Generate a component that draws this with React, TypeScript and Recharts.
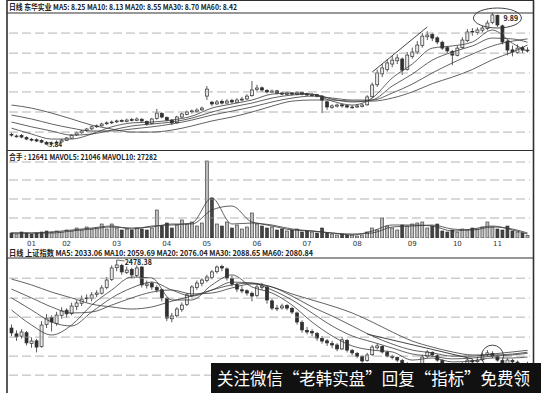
import { ComposedChart, Bar, Line, XAxis, YAxis, ReferenceLine, ReferenceDot } from 'recharts';

type Ohlc = [number, number, number, number]; // open, high, low, close

// 东华实业 daily candles
const dhCandles: Ohlc[] = [
  [4.33, 4.40, 4.22, 4.29], [4.22, 4.32, 4.18, 4.25], [4.28, 4.34, 4.15, 4.20], [4.18, 4.24, 4.06, 4.11],
  [4.10, 4.16, 4.00, 4.06], [4.08, 4.14, 3.97, 4.02], [4.04, 4.10, 3.92, 3.97], [3.96, 4.02, 3.86, 3.88],
  [3.89, 4.00, 3.84, 3.93], [3.94, 4.05, 3.90, 3.97], [3.98, 4.12, 3.95, 4.06], [4.05, 4.20, 4.02, 4.16],
  [4.15, 4.33, 4.12, 4.29], [4.30, 4.45, 4.25, 4.39], [4.40, 4.52, 4.35, 4.48], [4.50, 4.62, 4.44, 4.57],
  [4.58, 4.72, 4.52, 4.67], [4.70, 4.78, 4.62, 4.71], [4.72, 4.86, 4.68, 4.80], [4.82, 4.92, 4.76, 4.85],
  [4.86, 4.96, 4.80, 4.89], [4.90, 5.00, 4.84, 4.94], [4.96, 5.02, 4.88, 4.94], [4.92, 5.05, 4.88, 4.98],
  [5.00, 5.08, 4.92, 4.98], [4.97, 5.10, 4.93, 5.03], [5.02, 5.06, 4.88, 4.94], [4.92, 4.96, 4.72, 4.80],
  [4.82, 5.08, 4.78, 5.03], [5.05, 5.49, 5.00, 5.30], [5.28, 5.34, 5.06, 5.12], [5.10, 5.15, 4.92, 4.98],
  [4.98, 5.02, 4.75, 4.85], [4.86, 5.18, 4.82, 5.12], [5.12, 5.32, 5.08, 5.26], [5.24, 5.42, 5.20, 5.35],
  [5.36, 5.46, 5.28, 5.40], [5.38, 5.52, 5.32, 5.44], [5.45, 5.60, 5.40, 5.53], [6.08, 6.54, 5.90, 6.40],
  [5.80, 5.86, 5.62, 5.72], [5.72, 5.90, 5.68, 5.81], [5.84, 5.92, 5.70, 5.76], [5.76, 5.94, 5.72, 5.85],
  [5.88, 5.96, 5.74, 5.81], [5.80, 5.98, 5.76, 5.90], [5.90, 6.04, 5.84, 5.94], [5.95, 6.16, 5.90, 6.08],
  [6.10, 6.77, 6.05, 6.36], [6.38, 6.60, 6.30, 6.45], [6.46, 6.52, 6.28, 6.36], [6.34, 6.40, 6.20, 6.27],
  [6.26, 6.38, 6.22, 6.31], [6.32, 6.36, 6.16, 6.22], [6.22, 6.28, 6.12, 6.17], [6.16, 6.28, 6.12, 6.22],
  [6.22, 6.26, 6.10, 6.17], [6.16, 6.30, 6.12, 6.22], [6.24, 6.28, 6.12, 6.17], [6.18, 6.24, 6.08, 6.13],
  [6.12, 6.20, 6.06, 6.13], [6.14, 6.18, 6.02, 6.08], [6.08, 6.12, 5.30, 5.90], [5.82, 5.86, 5.45, 5.58],
  [5.56, 5.70, 5.50, 5.63], [5.62, 5.74, 5.56, 5.67], [5.68, 5.72, 5.55, 5.63], [5.64, 5.68, 5.52, 5.58],
  [5.56, 5.66, 5.50, 5.58], [5.58, 5.70, 5.54, 5.63], [5.60, 5.74, 5.56, 5.67], [5.68, 6.12, 5.64, 6.04],
  [6.05, 6.70, 6.00, 6.59], [6.60, 7.30, 6.50, 7.14], [7.10, 7.55, 6.95, 7.37], [7.30, 7.75, 7.20, 7.60],
  [7.55, 7.92, 7.40, 7.73], [7.70, 8.00, 7.55, 7.83], [7.78, 7.85, 7.05, 7.27], [7.30, 8.10, 7.25, 7.96],
  [7.90, 8.30, 7.80, 8.10], [8.10, 8.60, 8.00, 8.42], [8.40, 8.98, 8.30, 8.83], [8.80, 9.05, 8.65, 8.88],
  [8.90, 8.98, 8.60, 8.74], [8.75, 8.82, 8.45, 8.56], [8.55, 8.62, 8.20, 8.28], [8.30, 8.38, 8.05, 8.15],
  [8.12, 8.20, 7.50, 7.96], [7.95, 8.40, 7.90, 8.28], [8.30, 8.78, 8.25, 8.65], [8.62, 9.15, 8.55, 9.02],
  [9.05, 9.20, 8.85, 9.02], [9.00, 9.22, 8.90, 9.11], [9.10, 9.30, 9.00, 9.20], [9.18, 9.55, 9.10, 9.43],
  [9.45, 9.89, 9.38, 9.80], [9.78, 9.82, 9.25, 9.34], [9.30, 9.36, 8.45, 8.56], [8.60, 8.66, 7.95, 8.19],
  [8.20, 8.40, 7.90, 8.10], [8.08, 8.45, 8.02, 8.28], [8.30, 8.38, 8.05, 8.19], [8.18, 8.32, 8.08, 8.19],
];

// 总量 (hands)
const dhVolume = [
  27000, 21600, 32400, 27000, 21600, 27000, 32400, 37800, 32400, 37800, 32400, 43200, 37800,
  54000, 43200, 59400, 48600, 54000, 75600, 48600, 75600, 54000, 43200, 48600, 43200, 54000,
  48600, 43200, 54000, 151200, 64800, 81000, 54000, 70200, 97200, 75600, 86400, 64800, 81000,
  415800, 216000, 75600, 64800, 86400, 54000, 70200, 48600, 59400, 135000, 75600, 64800, 54000,
  59400, 43200, 48600, 37800, 43200, 48600, 32400, 37800, 32400, 27000, 54000, 27000, 21600,
  16200, 21600, 16200, 16200, 10800, 16200, 32400, 54000, 43200, 108000, 64800, 54000, 43200,
  70200, 64800, 75600, 81000, 86400, 54000, 64800, 75600, 37800, 32400, 43200, 32400, 48600,
  43200, 54000, 48600, 59400, 86400, 59400, 48600, 43200, 64800, 37800, 32400, 27000, 12641,
];

// 上证指数 daily candles
const shCandles: Ohlc[] = [
  [2185, 2200, 2150, 2164], [2160, 2175, 2130, 2147], [2150, 2180, 2140, 2168], [2165, 2172, 2110, 2121],
  [2118, 2145, 2100, 2129], [2130, 2138, 2080, 2103], [2105, 2215, 2100, 2198], [2200, 2245, 2185, 2228],
  [2230, 2240, 2170, 2211], [2205, 2255, 2195, 2241], [2240, 2275, 2225, 2259], [2262, 2270, 2230, 2246],
  [2248, 2295, 2240, 2280], [2278, 2305, 2262, 2293], [2292, 2325, 2280, 2310], [2312, 2330, 2295, 2315],
  [2314, 2340, 2300, 2328], [2330, 2348, 2318, 2336], [2335, 2370, 2330, 2358], [2360, 2405, 2352, 2392],
  [2395, 2455, 2388, 2444], [2445, 2478.38, 2430, 2457], [2455, 2462, 2415, 2427], [2425, 2450, 2418, 2435],
  [2438, 2445, 2400, 2414], [2412, 2455, 2405, 2444], [2448, 2452, 2360, 2371], [2368, 2390, 2355, 2375],
  [2378, 2385, 2350, 2362], [2360, 2370, 2338, 2349], [2350, 2355, 2300, 2315], [2312, 2318, 2215, 2228],
  [2225, 2250, 2210, 2237], [2238, 2275, 2230, 2267], [2265, 2295, 2255, 2284], [2286, 2335, 2280, 2328],
  [2325, 2370, 2318, 2362], [2360, 2390, 2350, 2379], [2378, 2400, 2365, 2392], [2390, 2415, 2382, 2405],
  [2403, 2435, 2395, 2427], [2428, 2455, 2420, 2448], [2450, 2458, 2430, 2444], [2440, 2446, 2390, 2401],
  [2398, 2410, 2365, 2375], [2372, 2380, 2340, 2353], [2350, 2365, 2335, 2345], [2346, 2352, 2325, 2336],
  [2335, 2342, 2300, 2323], [2325, 2372, 2318, 2362], [2360, 2380, 2350, 2366], [2362, 2368, 2290, 2306],
  [2302, 2310, 2262, 2271], [2268, 2285, 2258, 2271], [2272, 2290, 2265, 2280], [2282, 2288, 2262, 2271],
  [2270, 2276, 2245, 2254], [2250, 2256, 2200, 2211], [2210, 2218, 2165, 2177], [2175, 2190, 2158, 2168],
  [2170, 2180, 2150, 2164], [2162, 2168, 2130, 2142], [2140, 2150, 2118, 2129], [2130, 2138, 2108, 2121],
  [2118, 2130, 2098, 2112], [2112, 2120, 2085, 2095], [2095, 2145, 2090, 2134], [2132, 2138, 2080, 2090],
  [2088, 2095, 2068, 2078], [2076, 2082, 2055, 2064], [2062, 2068, 2035, 2043], [2045, 2078, 2040, 2069],
  [2070, 2112, 2065, 2103], [2100, 2118, 2092, 2108], [2106, 2110, 2075, 2082], [2080, 2088, 2058, 2064],
  [2062, 2070, 2050, 2060], [2058, 2062, 2038, 2047], [2045, 2052, 2025, 2034], [2032, 2038, 2012, 2021],
  [2020, 2030, 2005, 2013], [2015, 2035, 2010, 2026], [2028, 2070, 2022, 2060], [2062, 2090, 2055, 2082],
  [2080, 2085, 2060, 2069], [2066, 2072, 2040, 2047], [2045, 2050, 2015, 2021], [2020, 2028, 2005, 2013],
  [2012, 2018, 1995, 2004], [2005, 2015, 1998, 2009], [2010, 2038, 2005, 2030], [2032, 2055, 2025, 2047],
  [2045, 2052, 2030, 2039], [2040, 2058, 2035, 2047], [2048, 2078, 2042, 2069], [2070, 2090, 2062, 2078],
  [2076, 2085, 2055, 2064], [2062, 2068, 2040, 2047], [2045, 2050, 2015, 2021], [2022, 2055, 2018, 2047],
  [2045, 2052, 2030, 2039], [2038, 2045, 2020, 2026], [2025, 2032, 2010, 2017], [2016, 2040, 2008, 2013],
];

// moving averages are read at these bar indices
const maAt = [0, 4, 8, 12, 16, 20, 24, 28, 32, 36, 40, 44, 48, 52, 56, 60, 64, 68, 72, 76, 80, 84, 88, 92, 96, 100, 103];

const dhMa10 = [4.61, 4.34, 4.11, 4.11, 4.34, 4.67, 4.85, 4.89, 4.98, 5.16, 5.53, 5.72, 5.90, 6.17, 6.22, 6.17, 5.85, 5.67, 5.99, 6.91, 7.55, 8.28, 8.38, 8.56, 9.11, 8.50, 8.13];
const dhMa20 = [4.89, 4.67, 4.48, 4.29, 4.34, 4.52, 4.71, 4.80, 4.89, 5.07, 5.35, 5.58, 5.76, 5.99, 6.13, 6.17, 5.94, 5.81, 5.90, 6.54, 7.09, 7.73, 8.10, 8.38, 8.74, 8.70, 8.55];
const dhMa30 = [5.21, 5.03, 4.80, 4.61, 4.48, 4.48, 4.57, 4.67, 4.80, 4.98, 5.21, 5.39, 5.58, 5.81, 5.99, 6.08, 5.99, 5.90, 5.90, 6.22, 6.63, 7.14, 7.60, 8.01, 8.38, 8.60, 8.70];
const dhMa60 = [5.67, 5.53, 5.30, 5.03, 4.75, 4.57, 4.43, 4.43, 4.52, 4.71, 4.94, 5.12, 5.35, 5.62, 5.85, 5.90, 5.90, 5.85, 5.85, 5.99, 6.27, 6.65, 6.95, 7.30, 7.75, 8.10, 8.42];

const mavol5 = [27000, 27000, 32400, 43200, 54000, 64800, 48600, 64800, 70200, 81000, 216000, 75600, 81000, 64800, 43200, 37800, 27000, 16200, 37800, 70200, 70200, 64800, 37800, 48600, 64800, 43200, 21046];
const mavol10 = [27000, 27000, 27000, 37800, 48600, 59400, 54000, 59400, 75600, 75600, 151200, 172800, 86400, 70200, 48600, 37800, 27000, 21600, 27000, 59400, 64800, 70200, 48600, 43200, 59400, 48600, 27282];

const shMa10 = [2263, 2198, 2155, 2198, 2284, 2349, 2405, 2401, 2306, 2306, 2371, 2414, 2362, 2336, 2284, 2211, 2151, 2108, 2090, 2082, 2047, 2056, 2039, 2043, 2056, 2056, 2060];
const shMa20 = [2315, 2263, 2211, 2194, 2254, 2315, 2358, 2383, 2349, 2323, 2349, 2383, 2379, 2349, 2306, 2250, 2194, 2151, 2125, 2099, 2073, 2064, 2052, 2056, 2064, 2069, 2076];
const shMa30 = [2353, 2315, 2276, 2250, 2254, 2284, 2315, 2340, 2349, 2332, 2336, 2358, 2375, 2362, 2323, 2276, 2237, 2194, 2151, 2116, 2090, 2078, 2064, 2064, 2073, 2082, 2089];
const shMa60 = [2396, 2371, 2340, 2315, 2288, 2276, 2267, 2276, 2301, 2323, 2349, 2371, 2379, 2362, 2332, 2306, 2280, 2250, 2211, 2168, 2129, 2103, 2082, 2069, 2069, 2073, 2081];

const months = ['01', '02', '03', '04', '05', '06', '07', '08', '09', '10', '11'];
const monthStart = [4, 11, 21, 31, 39, 49, 59, 69, 80, 89, 97];

const dhGrid = [8.97, 8.05, 7.14, 6.27, 5.35, 4.43];
const volGrid = [410400, 313200, 210600, 108000];
const shGrid = [2400, 2314, 2232, 2146, 2064, 1982];

const INK = '#303030';
const GRID = '#a0a0a0';

const atIndex = (vals: number[]) => {
  const m = new Map<number, number>();
  maAt.forEach((idx, k) => m.set(idx, vals[k]));
  return m;
};

const d10 = atIndex(dhMa10), d20 = atIndex(dhMa20), d30 = atIndex(dhMa30), d60 = atIndex(dhMa60);
const v5 = atIndex(mavol5), v10 = atIndex(mavol10);
const s10 = atIndex(shMa10), s20 = atIndex(shMa20), s30 = atIndex(shMa30), s60 = atIndex(shMa60);

const dhRows = dhCandles.map(([open, high, low, close], i) => ({
  i, open, high, low, close,
  up: close >= open,
  vol: dhVolume[i],
  ma10: d10.get(i) ?? null, ma20: d20.get(i) ?? null, ma30: d30.get(i) ?? null, ma60: d60.get(i) ?? null,
  mv5: v5.get(i) ?? null, mv10: v10.get(i) ?? null,
}));

const shRows = shCandles.map(([open, high, low, close], i) => ({
  i, open, high, low, close,
  up: close >= open,
  ma10: s10.get(i) ?? null, ma20: s20.get(i) ?? null, ma30: s30.get(i) ?? null, ma60: s60.get(i) ?? null,
}));

const monthLabel = new Map(monthStart.map((idx, k) => [idx, months[k]]));

// range bar [low, high] -> wick + body
const Candle = (props: any) => {
  const { x, y, width, height, payload } = props;
  const { open, close, high, low, up } = payload;
  const span = high - low || 1;
  const toY = (v: number) => y + ((high - v) / span) * height;
  const top = toY(Math.max(open, close));
  const bot = toY(Math.min(open, close));
  const cx = x + width / 2;
  return (
    <g>
      <line x1={cx} x2={cx} y1={y} y2={y + height} stroke={INK} strokeWidth={0.8} />
      <rect x={x} y={top} width={width} height={Math.max(bot - top, 0.8)}
        fill={up ? '#e8e8e8' : INK} stroke={INK} strokeWidth={0.7} />
    </g>
  );
};

const VolBar = (props: any) => {
  const { x, y, width, height, payload } = props;
  return <rect x={x} y={y} width={width} height={height} fill={payload.up ? '#bdbdbd' : '#444'} stroke={INK} strokeWidth={0.6} />;
};

const maLines = (keys: string[]) =>
  keys.map((k) => (
    <Line key={k} dataKey={k} type="monotone" connectNulls dot={false} stroke="#3a3a3a"
      strokeWidth={0.8} isAnimationActive={false} />
  ));

const gridLines = (levels: number[]) =>
  levels.map((v) => (
    <ReferenceLine key={v} y={v} stroke={GRID} strokeWidth={0.8} strokeDasharray="9 4" />
  ));

const titleFont = { fontFamily: '"Noto Sans CJK SC", "Noto Sans", sans-serif', fontSize: 7.5, fontWeight: 700, fill: '#222' };

export default function App() {
  return (
    <div style={{ position: 'absolute', left: 0, top: 0, width: 541, height: 393, background: '#fff', overflow: 'hidden' }}>
      {/* 东华实业 price panel */}
      <div style={{ position: 'absolute', left: 0, top: 0 }}>
        <ComposedChart width={541} height={150} data={dhRows} margin={{ top: 13, right: 11, bottom: 2, left: 9 }}>
          <XAxis dataKey="i" hide />
          <YAxis hide domain={[3.7, 9.89]} allowDataOverflow />
          {gridLines(dhGrid)}
          <Bar dataKey={(d: any) => [d.low, d.high]} barSize={3} shape={Candle} isAnimationActive={false} />
          {maLines(['ma60', 'ma30', 'ma20', 'ma10'])}
          <ReferenceLine segment={[{ x: 72, y: 7.18 }, { x: 83, y: 9.25 }]} stroke={INK} strokeWidth={0.9} />
          <ReferenceDot x={97} y={9.66} shape={(p: any) => (
            <g>
              <ellipse cx={p.cx} cy={p.cy} rx={24} ry={10} fill="none" stroke={INK} strokeWidth={0.9} />
              <text x={p.cx + 6} y={p.cy + 3} style={{ ...titleFont, fontSize: 7 }}>9.89</text>
            </g>
          )} />
          <ReferenceDot x={8} y={3.84} shape={(p: any) => (
            <g>
              <line x1={p.cx - 7} y1={p.cy - 2} x2={p.cx - 3} y2={p.cy + 1} stroke={INK} strokeWidth={0.7} />
              <text x={p.cx - 3} y={p.cy + 2.5} style={{ ...titleFont, fontSize: 6.5 }}>3.84</text>
            </g>
          )} />
        </ComposedChart>
      </div>

      {/* volume panel */}
      <div style={{ position: 'absolute', left: 0, top: 151 }}>
        <ComposedChart width={541} height={98} data={dhRows} margin={{ top: 0, right: 11, bottom: 0, left: 9 }}>
          <XAxis dataKey="i" interval={0} height={11} axisLine={false} tickLine={false} tickSize={0} tickMargin={3}
            tickFormatter={(v: number) => monthLabel.get(v) ?? ''}
            tick={{ fontSize: 7, fill: '#333', fontFamily: '"DejaVu Sans", sans-serif' }} />
          <YAxis hide domain={[0, 469800]} allowDataOverflow />
          {gridLines(volGrid)}
          <Bar dataKey="vol" barSize={3} shape={VolBar} isAnimationActive={false} />
          {maLines(['mv5', 'mv10'])}
        </ComposedChart>
      </div>

      {/* 上证指数 panel */}
      <div style={{ position: 'absolute', left: 0, top: 258 }}>
        <ComposedChart width={541} height={135} data={shRows} margin={{ top: 0, right: 11, bottom: 0, left: 9 }}>
          <XAxis dataKey="i" hide />
          <YAxis hide domain={[1905, 2487]} allowDataOverflow />
          {gridLines(shGrid)}
          <Bar dataKey={(d: any) => [d.low, d.high]} barSize={3} shape={Candle} isAnimationActive={false} />
          {maLines(['ma60', 'ma30', 'ma20', 'ma10'])}
          <ReferenceLine segment={[{ x: 71, y: 2159 }, { x: 92, y: 2052 }]} stroke={INK} strokeWidth={0.9} />
          <ReferenceDot x={96} y={2064} shape={(p: any) => (
            <circle cx={p.cx} cy={p.cy} r={11} fill="none" stroke={INK} strokeWidth={0.9} />
          )} />
          <ReferenceDot x={21} y={2478.38} shape={(p: any) => (
            <g>
              <line x1={p.cx} y1={p.cy} x2={p.cx + 8} y2={p.cy + 1} stroke={INK} strokeWidth={0.7} />
              <text x={p.cx + 8} y={p.cy + 5} style={{ ...titleFont, fontSize: 7 }}>2478.38</text>
            </g>
          )} />
        </ComposedChart>
      </div>

      {/* frame, panel titles and caption bar */}
      <svg width={541} height={393} style={{ position: 'absolute', left: 0, top: 0, pointerEvents: 'none' }}>
        <line x1={7} x2={7} y1={0} y2={393} stroke={INK} strokeWidth={1.6} />
        <line x1={533.5} x2={533.5} y1={0} y2={393} stroke={INK} strokeWidth={1.6} />
        <line x1={7} x2={534} y1={0.5} y2={0.5} stroke={INK} strokeWidth={1} />
        <line x1={7} x2={534} y1={13} y2={13} stroke={INK} strokeWidth={1} />
        <line x1={7} x2={534} y1={150.5} y2={150.5} stroke={INK} strokeWidth={1} />
        <line x1={7} x2={534} y1={258} y2={258} stroke={INK} strokeWidth={1} />
        <text x={9} y={10} textLength={228} lengthAdjust="spacingAndGlyphs" style={titleFont}>
          日线  东华实业  MA5: 8.25  MA10: 8.13  MA20: 8.55  MA30: 8.70  MA60: 8.42
        </text>
        <text x={9} y={160} textLength={148} lengthAdjust="spacingAndGlyphs" style={titleFont}>
          合手 : 12641  MAVOL5: 21046  MAVOL10: 27282
        </text>
        <text x={9} y={255.5} textLength={304} lengthAdjust="spacingAndGlyphs" style={titleFont}>
          日线  上证指数  MA5: 2033.06  MA10: 2059.69  MA20: 2076.04  MA30: 2088.65  MA60: 2080.84
        </text>
        <rect x={211} y={363} width={330} height={30} fill="#111" />
        <text x={217} y={385} textLength={313} lengthAdjust="spacingAndGlyphs"
          style={{ fontFamily: '"Noto Sans CJK SC", sans-serif', fontSize: 17, fill: '#fff' }}>
          关注微信“老韩实盘”回复“指标”免费领
        </text>
      </svg>
    </div>
  );
}
